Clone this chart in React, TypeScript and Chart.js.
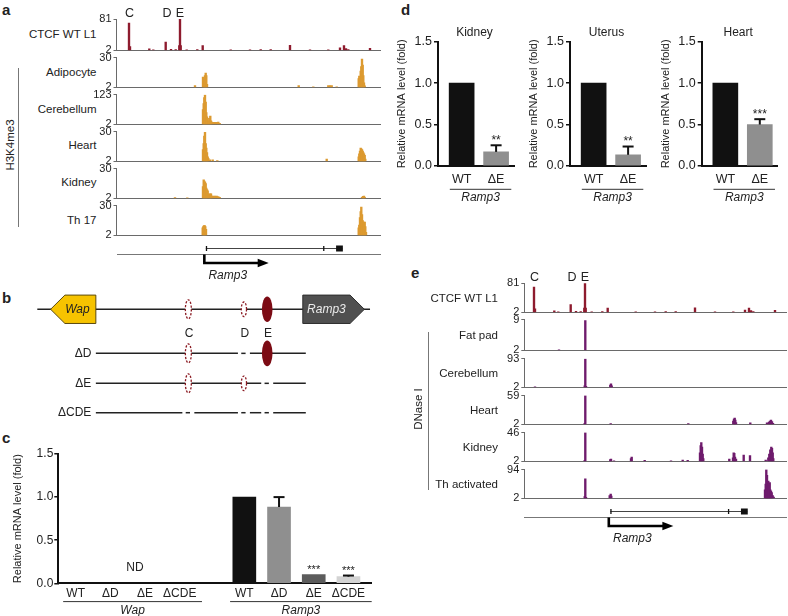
import React, { useEffect, useRef } from 'react';
import { Chart, registerables } from 'chart.js';

Chart.register(...registerables);

const FONT = "'Liberation Sans', Arial, Helvetica, sans-serif";
Chart.defaults.font.family = FONT;
Chart.defaults.color = '#222';

// ================= DATA =================
// Genome-browser window coordinates (bins along the locus)
// CTCF WT L1 (same track in panels a and e)
const ctcfPos = [12.5, 13.5, 32.8, 36.8, 49.2, 54.5, 59.2, 62.8, 63.5, 64.2, 70.2, 80.8, 86.2, 114.2, 133.5, 144.2, 154.2, 173.5, 193.5, 211.8, 223.5, 227.5, 229.5, 231.8, 253.5];
const ctcfVal = [71, 11.5, 6, 3.5, 23, 5, 4, 14, 81, 14, 3.5, 4, 14, 3.5, 3.5, 4, 4, 14.5, 3.5, 3.5, 8.3, 14, 6.7, 4, 7.5];
const ctcfSiteNames = ['C', 'D', 'E'];
const ctcfSitePos = [13, 50.5, 63.5];

// H3K4me3 (panel a)
const adipoPos = [78.5, 86.5, 87.2, 87.8, 88.5, 89.2, 89.8, 90.5, 182.2, 196.8, 211.8, 213.5, 215.2, 220.2, 242.2, 242.8, 243.5, 244.2, 244.8, 245.5, 246.2, 246.8, 247.5, 248.2];
const adipoVal = [3.7, 11.8, 10.4, 9.0, 13.2, 15.4, 13.2, 4.8, 3.7, 2.6, 3.7, 3.7, 3.7, 2.6, 10.4, 12.6, 10.4, 17.4, 21.6, 28.6, 23.0, 13.2, 6.2, 3.4];
const cerebPos = [86.5, 87.2, 87.8, 88.5, 89.2, 89.8, 90.5, 91.2, 91.8, 92.5, 93.2, 93.8, 94.5, 95.2, 96.2, 97.5, 98.8, 100.2, 101.8, 103.2];
const cerebVal = [62.5, 86.7, 110.9, 120.6, 92.8, 50.4, 32.3, 26.2, 16.5, 11.7, 26.2, 35.9, 16.5, 11.7, 10.5, 10.5, 10.5, 10.5, 11.7, 6.8];
const heartPos = [86.5, 87.2, 87.8, 88.5, 89.2, 89.8, 90.5, 91.2, 91.8, 93.5, 96.2, 100.8, 210.2, 242.2, 242.8, 243.5, 244.2, 244.8, 245.5, 246.2, 246.8, 247.5, 248.2, 248.8];
const heartVal = [13.2, 18.8, 25.8, 29.2, 18.8, 14.6, 10.4, 6.2, 4.8, 3.4, 3.4, 2.8, 4.2, 6.2, 9.0, 11.8, 14.6, 13.8, 13.2, 11.8, 10.4, 9.0, 7.6, 4.2];
const kidneyPos = [58.5, 70.8, 86.5, 87.2, 87.8, 88.5, 89.2, 89.8, 90.5, 91.2, 92.2, 93.2, 93.8, 94.5, 95.5, 96.8, 98.5, 100.2, 101.8, 103.2, 245.5, 246.5, 247.5, 248.2];
const kidneyVal = [2.8, 2.6, 13.2, 19.4, 18.2, 17.4, 16.0, 11.8, 10.4, 9.0, 6.2, 5.4, 6.2, 6.2, 4.2, 4.2, 4.2, 4.2, 3.7, 3.1, 3.1, 4.0, 4.2, 3.1];
const th17Pos = [86.2, 86.8, 87.5, 88.2, 88.8, 89.5, 242.2, 242.8, 243.5, 244.2, 244.8, 245.5, 246.2, 246.8, 247.5, 248.2, 248.8, 249.5];
const th17Val = [9.0, 10.4, 11.2, 11.2, 10.4, 7.6, 9.0, 11.8, 18.8, 24.4, 28.6, 21.6, 16.0, 13.2, 14.6, 14.6, 10.4, 4.8];

const aNames = ['CTCF WT L1', 'Adipocyte', 'Cerebellum', 'Heart', 'Kidney', 'Th 17'];
const aMax = [81, 30, 123, 30, 30, 30];
const aPos = [ctcfPos, adipoPos, cerebPos, heartPos, kidneyPos, th17Pos];
const aVal = [ctcfVal, adipoVal, cerebVal, heartVal, kidneyVal, th17Val];

// DNase I (panel e)
const dnFatPos = [37.5, 63.8];
const dnFatVal = [2.1, 8.8];
const dnCerebPos = [13.5, 63.2, 63.8, 64.5, 88.8, 89.5, 90.2];
const dnCerebVal = [3.8, 6.6, 91.2, 5.6, 9.3, 12.9, 6.6];
const dnHeartPos = [63.2, 63.8, 89.2, 166.8, 211.8, 212.5, 213.2, 213.8, 214.5, 228.8, 245.5, 247.5, 248.5, 249.5, 250.5, 251.5];
const dnHeartVal = [4.3, 59, 3.7, 3.7, 8.8, 12.3, 14.5, 10.6, 5.4, 4.9, 4.9, 6.6, 8.8, 10.6, 7.7, 4.3];
const dnKidneyPos = [63.2, 63.8, 88.8, 89.5, 92.5, 109.5, 110.2, 123.2, 149.5, 161.2, 166.2, 178.5, 179.2, 179.8, 180.5, 181.2, 181.8, 207.8, 211.5, 212.2, 212.8, 213.5, 214.5, 222.2, 228.5, 244.2, 246.8, 247.8, 248.8, 249.8, 250.5, 251.2, 251.8];
const dnKidneyVal = [3.8, 46, 4.6, 5.5, 2.9, 6.4, 8.6, 3.8, 2.9, 4.2, 3.8, 15.2, 26.2, 30.6, 24, 13, 6.4, 5.5, 7.3, 15.2, 14.3, 8.6, 5.5, 11.7, 10.8, 4.2, 7.3, 13, 19.6, 24, 21.8, 15.2, 6.4];
const dnThPos = [63.2, 63.8, 64.5, 88.2, 89.2, 89.8, 243.5, 244.2, 244.8, 245.5, 246.2, 246.8, 247.5, 248.2, 248.8, 249.5, 250.2, 251.2, 252.2];
const dnThVal = [7.5, 64.6, 5.7, 11.2, 15.8, 9.4, 29.6, 48, 94, 75.6, 52.6, 57.2, 48, 52.6, 29.6, 25, 20.4, 11.2, 6.6];

const eNames = ['CTCF WT L1', 'Fat pad', 'Cerebellum', 'Heart', 'Kidney', 'Th activated'];
const eMax = [81, 9, 93, 59, 46, 94];
const ePos = [ctcfPos, dnFatPos, dnCerebPos, dnHeartPos, dnKidneyPos, dnThPos];
const eVal = [ctcfVal, dnFatVal, dnCerebVal, dnHeartVal, dnKidneyVal, dnThVal];

// Ramp3 gene model (same window coordinates)
const geneTSS = 87.5;
const geneEnd = 225.8;
const geneExonStart = [89.0, 206.5, 219.5];
const geneExonEnd = [89.6, 207.1, 226.3];
const geneArrowEnd = 152;
const geneLabelPos = 111;
const geneName = 'Ramp3';

// Panel b schematic (map units along the Wap–Ramp3 locus)
const bGeneNames = ['Wap', 'Ramp3'];
const bGeneFrom = [4.0, 79.8];
const bGeneTo = [17.6, 98.3];
const bGeneStrand = [-1, 1];
const bSiteNames = ['C', 'D', 'E'];
const bSitePos = [45.4, 62.1, 69.1];
const bSiteBound = [false, false, true];
const bRowNames = ['', 'ΔD', 'ΔE', 'ΔCDE'];
const bRowDeleted = [[], ['D'], ['E'], ['C', 'D', 'E']];
const bRowY = [0, 1.47, 2.47, 3.45];

// Panel c
const cLabels = ['WT', 'ΔD', 'ΔE', 'ΔCDE', 'WT', 'ΔD', 'ΔE', 'ΔCDE'];
const cPos = [0.5, 1.5, 2.5, 3.5, 5.36, 6.36, 7.36, 8.36];
const cVals: (number | null)[] = [null, null, null, null, 1.0, 0.885, 0.10, 0.077];
const cErr = [0, 0, 0, 0, 0, 0.115, 0, 0.013];
const cSig = ['', '', '', '', '', '', '***', '***'];
const cGroups = ['Wap', 'Ramp3'];
const cGroupFrom = [0.14, 4.95];
const cGroupTo = [4.14, 9.03];

// Panel d
const dTitles = ['Kidney', 'Uterus', 'Heart'];
const dLabels = ['WT', 'ΔE'];
const dPos = [0.7, 1.72];
const dWT = [1.0, 1.0, 1.0];
const dKO = [0.17, 0.135, 0.50];
const dKOErr = [0.08, 0.10, 0.065];
const dSig = ['**', '**', '***'];
const dGroup = 'Ramp3';

// ================= STYLES / LAYOUT =================
const CTCF_COLOR = '#8e1b2e';
const H3_COLOR = '#dc9a30';
const DN_COLOR = '#6f1b6c';
const AXIS_GRAY = '#6a6a6a';
const aTop = [19, 56, 93.3, 130, 166.7, 204];
const aBase = [51.7, 89.3, 126, 162.7, 200, 237.3];
const eTop = [283.3, 318.3, 357.3, 394, 431, 468.3];
const eBase = [314.3, 351.7, 389, 426.3, 463.3, 500.3];

function Txt({ x, y, text, size = 11.5, align = 'left', bold = false, italic = false, rotate = false, color = '#222' }: any) {
  const lh = Math.round(size * 1.25);
  const st: any = {
    position: 'absolute', top: y - lh / 2, height: lh, lineHeight: lh + 'px', fontSize: size,
    fontFamily: FONT, whiteSpace: 'nowrap', fontWeight: bold ? 700 : 400,
    fontStyle: italic ? 'italic' : 'normal', color,
  };
  if (rotate) { st.left = x - 100; st.width = 200; st.textAlign = 'center'; st.transform = 'rotate(-90deg)'; }
  else if (align === 'right') { st.left = x - 200; st.width = 200; st.textAlign = 'right'; }
  else if (align === 'center') { st.left = x - 100; st.width = 200; st.textAlign = 'center'; }
  else st.left = x;
  return <div style={st}>{text}</div>;
}

function Rule({ x, y, w, h, color = AXIS_GRAY }: any) {
  return <div style={{ position: 'absolute', left: x, top: y, width: w, height: h, background: color }} />;
}

// ---------- Track ----------
function Track(p: any) {
  const ref = useRef<HTMLCanvasElement>(null);
  const left = Math.round(p.axisX - 30);
  const yW = p.axisX - left;
  const top = Math.round(p.topY - (p.sites ? 16 : 7));
  const pT = p.topY - top;
  const pB = 7;
  const w = Math.round(yW + p.trackW);
  const h = Math.round(p.baseY - top + pB);
  const padB = h - (p.baseY - top);
  useEffect(() => {
    const plugins: any[] = [];
    if (p.sites) {
      plugins.push({
        id: 'sites',
        afterDraw(chart: any) {
          const { ctx, chartArea } = chart;
          const x = chart.scales.x;
          ctx.save();
          ctx.font = `12.5px ${FONT}`;
          ctx.fillStyle = '#222';
          ctx.textAlign = 'center';
          ctx.textBaseline = 'middle';
          ctcfSiteNames.forEach((n, i) => ctx.fillText(n, x.getPixelForValue(ctcfSitePos[i]), chartArea.top - 5.5));
          ctx.restore();
        },
      });
    }
    const chart = new Chart(ref.current!, {
      type: 'bar',
      data: {
        datasets: [{
          data: p.pos.map((x: number, i: number) => ({ x, y: p.vals[i] })),
          backgroundColor: p.color, borderWidth: 0, barThickness: 1.7, base: 2,
        } as any],
      },
      options: {
        animation: false, responsive: false, devicePixelRatio: 1, events: [],
        layout: { padding: { top: pT, bottom: padB, left: 0, right: 0 } },
        plugins: { legend: { display: false }, tooltip: { enabled: false } },
        scales: {
          x: {
            type: 'linear', min: p.xMin, max: p.xMax, offset: false,
            ticks: { display: false }, grid: { display: false, drawTicks: false, offset: false },
            border: { display: true, color: AXIS_GRAY, width: 1 },
            afterFit: (s: any) => { s.height = 0; },
          },
          y: {
            type: 'linear', min: 2, max: p.max,
            afterBuildTicks: (s: any) => { s.ticks = [{ value: 2 }, { value: p.max }]; },
            ticks: { font: { size: 11 }, color: '#222', padding: 2 },
            grid: { drawOnChartArea: false, tickLength: 3, color: AXIS_GRAY },
            border: { color: AXIS_GRAY, width: 1 },
            afterFit: (s: any) => { s.width = yW; },
          },
        },
      } as any,
      plugins,
    });
    return () => chart.destroy();
  }, []);
  return <canvas ref={ref} width={w} height={h} style={{ position: 'absolute', left, top }} />;
}

// ---------- Gene model ----------
function Gene({ axisX, topY, trackW, xMin, xMax }: any) {
  const ref = useRef<HTMLCanvasElement>(null);
  const left = Math.round(axisX);
  const w = Math.round(trackW + axisX - left);
  const h = 42;
  useEffect(() => {
    const chart = new Chart(ref.current!, {
      type: 'scatter',
      data: { datasets: [] },
      options: {
        animation: false, responsive: false, devicePixelRatio: 1, events: [],
        layout: { padding: 0 },
        plugins: { legend: { display: false }, tooltip: { enabled: false } },
        scales: {
          x: { type: 'linear', min: xMin, max: xMax, display: false },
          y: { type: 'linear', min: 0, max: 1, display: false },
        },
      } as any,
      plugins: [{
        id: 'gene',
        afterDraw(c: any) {
          const { ctx, chartArea } = c;
          const X = (v: number) => c.scales.x.getPixelForValue(v);
          const yG = 6.5, yA = 12.5;
          ctx.save();
          ctx.strokeStyle = '#444'; ctx.lineWidth = 1;
          ctx.beginPath(); ctx.moveTo(X(geneExonStart[0]), yG); ctx.lineTo(X(geneEnd), yG); ctx.stroke();
          ctx.fillStyle = '#111';
          geneExonStart.forEach((s, i) => {
            const x0 = X(s), x1 = X(geneExonEnd[i]);
            const big = x1 - x0 > 3;
            const hh = big ? 6 : 5;
            ctx.fillRect(x0, yG - hh / 2, Math.max(1.3, x1 - x0), hh);
          });
          ctx.strokeStyle = '#777'; ctx.lineWidth = 1.2;
          ctx.beginPath(); ctx.moveTo(chartArea.left, yA); ctx.lineTo(chartArea.right, yA); ctx.stroke();
          const xt = X(geneTSS), xe = X(geneArrowEnd), ya = yA + 8.5;
          ctx.strokeStyle = '#000'; ctx.lineWidth = 2.6; ctx.lineJoin = 'miter';
          ctx.beginPath(); ctx.moveTo(xt, yA); ctx.lineTo(xt, ya); ctx.lineTo(xe - 8, ya); ctx.stroke();
          ctx.fillStyle = '#000';
          ctx.beginPath(); ctx.moveTo(xe, ya); ctx.lineTo(xe - 11, ya - 4.2); ctx.lineTo(xe - 11, ya + 4.2); ctx.closePath(); ctx.fill();
          ctx.font = `italic 12px ${FONT}`; ctx.textAlign = 'center'; ctx.textBaseline = 'middle'; ctx.fillStyle = '#222';
          ctx.fillText(geneName, X(geneLabelPos), yA + 21.5);
          ctx.restore();
        },
      }],
    });
    return () => chart.destroy();
  }, []);
  return <canvas ref={ref} width={w} height={h} style={{ position: 'absolute', left, top: Math.round(topY) }} />;
}

// ---------- Panel b schematic ----------
function Schematic() {
  const ref = useRef<HTMLCanvasElement>(null);
  useEffect(() => {
    const chart = new Chart(ref.current!, {
      type: 'scatter',
      data: { datasets: [] },
      options: {
        animation: false, responsive: false, devicePixelRatio: 1, events: [],
        layout: { padding: 0 },
        plugins: { legend: { display: false }, tooltip: { enabled: false } },
        scales: {
          x: { type: 'linear', min: -11.21, max: 103.0, display: false },
          y: { type: 'linear', min: -0.81, max: 3.86, reverse: true, display: false },
        },
      } as any,
      plugins: [{
        id: 'schematic',
        afterDraw(c: any) {
          const { ctx } = c;
          const X = (v: number) => c.scales.x.getPixelForValue(v);
          const Y = (v: number) => c.scales.y.getPixelForValue(v);
          const radii: Record<string, number[]> = { C: [3.0, 9.5], D: [2.6, 7.3], E: [5.3, 12.8] };
          const line = (a: number, b: number, y: number) => {
            ctx.beginPath(); ctx.moveTo(X(a), y); ctx.lineTo(X(b), y); ctx.stroke();
          };
          const site = (i: number, y: number) => {
            const [rx, ry] = radii[bSiteNames[i]];
            ctx.save();
            ctx.beginPath(); ctx.ellipse(X(bSitePos[i]), y, rx, ry, 0, 0, Math.PI * 2);
            if (bSiteBound[i]) { ctx.fillStyle = '#7c0b14'; ctx.fill(); }
            else {
              ctx.fillStyle = '#fff'; ctx.fill();
              ctx.setLineDash([2.2, 1.6]); ctx.strokeStyle = '#8b1a22'; ctx.lineWidth = 1.3; ctx.stroke();
            }
            ctx.restore();
          };
          ctx.save();
          ctx.strokeStyle = '#222'; ctx.lineWidth = 1.5;
          // WT locus
          const y0 = Y(bRowY[0]);
          line(0, 100, y0);
          const tip = 4.3, hh = 14.2;
          bGeneNames.forEach((g, i) => {
            const f = bGeneFrom[i], t = bGeneTo[i];
            ctx.beginPath();
            if (bGeneStrand[i] < 0) {
              ctx.moveTo(X(f), y0); ctx.lineTo(X(f + tip), y0 - hh); ctx.lineTo(X(t), y0 - hh);
              ctx.lineTo(X(t), y0 + hh); ctx.lineTo(X(f + tip), y0 + hh);
            } else {
              ctx.moveTo(X(t), y0); ctx.lineTo(X(t - tip), y0 - hh); ctx.lineTo(X(f), y0 - hh);
              ctx.lineTo(X(f), y0 + hh); ctx.lineTo(X(t - tip), y0 + hh);
            }
            ctx.closePath();
            ctx.fillStyle = i === 0 ? '#f6c300' : '#505050';
            ctx.fill();
            ctx.lineWidth = 1; ctx.strokeStyle = i === 0 ? '#5b4a10' : '#2e2e2e'; ctx.stroke();
            const bodyC = bGeneStrand[i] < 0 ? (f + tip + t) / 2 - 0.9 : (f + t - tip) / 2;
            ctx.font = `italic 12px ${FONT}`; ctx.textAlign = 'center'; ctx.textBaseline = 'middle';
            ctx.fillStyle = i === 0 ? '#222' : '#ececec';
            ctx.fillText(g, X(bodyC), y0 + 0.5);
          });
          ctx.strokeStyle = '#222'; ctx.lineWidth = 1.5;
          bSiteNames.forEach((_, i) => site(i, y0));
          ctx.font = `12px ${FONT}`; ctx.textAlign = 'center'; ctx.textBaseline = 'middle'; ctx.fillStyle = '#222';
          bSiteNames.forEach((n, i) => ctx.fillText(n, X(bSitePos[i]) + 0.8, Y(0.8)));
          // deletion alleles
          const rowFrom = bGeneTo[0], rowTo = bGeneFrom[1] + 0.9;
          for (let r = 1; r < bRowNames.length; r++) {
            const y = Y(bRowY[r]);
            const del = bRowDeleted[r];
            const cuts = bSiteNames.map((n, i) => (del.includes(n) ? bSitePos[i] : null)).filter((v) => v !== null) as number[];
            ctx.strokeStyle = '#222'; ctx.lineWidth = 1.5;
            let start = rowFrom;
            cuts.forEach((s) => { line(start, s - 1.8, y); line(s - 0.8, s + 0.5, y); start = s + 1.8; });
            line(start, rowTo, y);
            bSiteNames.forEach((n, i) => { if (!del.includes(n)) site(i, y); });
            ctx.font = `12px ${FONT}`; ctx.textAlign = 'right'; ctx.textBaseline = 'middle'; ctx.fillStyle = '#222';
            ctx.fillText(bRowNames[r], X(rowFrom) - 4.5, y);
          }
          ctx.restore();
        },
      }],
    });
    return () => chart.destroy();
  }, []);
  return <canvas ref={ref} width={380} height={140} style={{ position: 'absolute', left: 0, top: 285 }} />;
}

// ---------- bar helpers ----------
function drawErrorsAndStars(c: any, vals: (number | null)[], errs: number[], sig: string[], starSize: number, capHalf: number) {
  const { ctx } = c;
  const y = c.scales.y;
  const meta = c.getDatasetMeta(c.data.datasets.length - 1);
  ctx.save();
  meta.data.forEach((el: any, i: number) => {
    const v = vals[i];
    if (v == null) return;
    let topPx = el.y;
    if (errs[i] > 0) {
      const ye = y.getPixelForValue(v + errs[i]);
      ctx.strokeStyle = '#111'; ctx.lineWidth = 2;
      ctx.beginPath(); ctx.moveTo(el.x, el.y); ctx.lineTo(el.x, ye); ctx.stroke();
      ctx.beginPath(); ctx.moveTo(el.x - capHalf, ye); ctx.lineTo(el.x + capHalf, ye); ctx.stroke();
      topPx = ye;
    }
    if (sig[i]) {
      ctx.font = `${starSize}px ${FONT}`; ctx.fillStyle = '#222'; ctx.textAlign = 'center'; ctx.textBaseline = 'alphabetic';
      ctx.fillText(sig[i], el.x, topPx - 1.5);
    }
  });
  ctx.restore();
}

function drawGroup(c: any, name: string, from: number, to: number, dy: number, dyText: number) {
  const { ctx, chartArea } = c;
  const x = c.scales.x;
  const y = chartArea.bottom + dy;
  ctx.save();
  ctx.strokeStyle = '#333'; ctx.lineWidth = 1;
  ctx.beginPath(); ctx.moveTo(x.getPixelForValue(from), y); ctx.lineTo(x.getPixelForValue(to), y); ctx.stroke();
  ctx.font = `italic 12px ${FONT}`; ctx.fillStyle = '#222'; ctx.textAlign = 'center'; ctx.textBaseline = 'middle';
  ctx.fillText(name, x.getPixelForValue((from + to) / 2), chartArea.bottom + dyText);
  ctx.restore();
}

// ---------- Panel c ----------
function PanelC() {
  const ref = useRef<HTMLCanvasElement>(null);
  useEffect(() => {
    const colors = ['#111111', '#8f8f8f', '#5c5c5c', '#d3d3d3', '#111111', '#8f8f8f', '#5c5c5c', '#d3d3d3'];
    const chart = new Chart(ref.current!, {
      type: 'bar',
      data: {
        datasets: [{
          data: cPos.map((x, i) => ({ x, y: cVals[i] })),
          backgroundColor: colors, borderWidth: 0, barThickness: 23,
        } as any],
      },
      options: {
        animation: false, responsive: false, devicePixelRatio: 1, events: [],
        layout: { padding: { left: 11.1, top: 14, right: 8.3, bottom: 0 } },
        plugins: { legend: { display: false }, tooltip: { enabled: false } },
        scales: {
          x: {
            type: 'linear', min: 0, max: 9.03, offset: false,
            afterBuildTicks: (s: any) => { s.ticks = cPos.map((v) => ({ value: v })); },
            ticks: { callback: (_v: any, i: number) => cLabels[i], autoSkip: false, maxRotation: 0, font: { size: 12 }, color: '#222', padding: 3 },
            grid: { display: false, drawTicks: false, offset: false },
            border: { display: true, color: '#111', width: 2 },
            afterFit: (s: any) => { s.height = 32.7; },
          },
          y: {
            type: 'linear', min: 0, max: 1.5,
            ticks: { stepSize: 0.5, callback: (v: any) => Number(v).toFixed(1), font: { size: 12 }, color: '#222', padding: 1 },
            grid: { drawOnChartArea: false, tickLength: 4, color: '#111', lineWidth: 1.5 },
            border: { color: '#111', width: 2 },
            title: { display: true, text: 'Relative mRNA level (fold)', font: { size: 11 }, color: '#222', padding: 0 },
            afterFit: (s: any) => { s.width = 47.2; },
          },
        },
      } as any,
      plugins: [{
        id: 'cExtras',
        afterDraw(c: any) {
          drawErrorsAndStars(c, cVals, cErr, cSig, 11, 5.5);
          cGroups.forEach((g, i) => drawGroup(c, g, cGroupFrom[i], cGroupTo[i], 18.3, 27.7));
        },
      }],
    });
    return () => chart.destroy();
  }, []);
  return <canvas ref={ref} width={380} height={176} style={{ position: 'absolute', left: 0, top: 440 }} />;
}

// ---------- Panel d ----------
const dAxisX = [438, 570, 701.7];
function PanelD({ idx }: { idx: number }) {
  const ref = useRef<HTMLCanvasElement>(null);
  const axisX = dAxisX[idx];
  const left = Math.round(axisX - 43);
  const yW = axisX - left;
  const top = 20, areaTop = 41.7, areaBottom = 166, height = 190;
  const areaW = 76;
  const width = Math.round(yW + areaW + 6);
  useEffect(() => {
    const vals = [dWT[idx], dKO[idx]];
    const errs = [0, dKOErr[idx]];
    const sig = ['', dSig[idx]];
    const chart = new Chart(ref.current!, {
      type: 'bar',
      data: {
        datasets: [{
          data: dPos.map((x, i) => ({ x, y: vals[i] })),
          backgroundColor: ['#111111', '#8f8f8f'], borderWidth: 0, barThickness: 25,
        } as any],
      },
      options: {
        animation: false, responsive: false, devicePixelRatio: 1, events: [],
        layout: { padding: { left: 0, top: areaTop - top, right: width - yW - areaW, bottom: 0 } },
        plugins: { legend: { display: false }, tooltip: { enabled: false } },
        scales: {
          x: {
            type: 'linear', min: 0, max: 2.25, offset: false,
            afterBuildTicks: (s: any) => { s.ticks = dPos.map((v) => ({ value: v })); },
            ticks: { callback: (_v: any, i: number) => dLabels[i], autoSkip: false, maxRotation: 0, font: { size: 12.5 }, color: '#222', padding: 6 },
            grid: { display: false, drawTicks: false, offset: false },
            border: { display: true, color: '#111', width: 2 },
            afterFit: (s: any) => { s.height = top + height - areaBottom; },
          },
          y: {
            type: 'linear', min: 0, max: 1.5,
            ticks: { stepSize: 0.5, callback: (v: any) => Number(v).toFixed(1), font: { size: 12.5 }, color: '#222', padding: 2 },
            grid: { drawOnChartArea: false, tickLength: 4, color: '#111', lineWidth: 1.5 },
            border: { color: '#111', width: 2 },
            title: { display: true, text: 'Relative mRNA level (fold)', font: { size: 11 }, color: '#222', padding: 0 },
            afterFit: (s: any) => { s.width = yW; },
          },
        },
      } as any,
      plugins: [{
        id: 'dExtras',
        afterDraw(c: any) {
          drawErrorsAndStars(c, vals, errs, sig, 12, 5.5);
          drawGroup(c, dGroup, 0.35, 2.17, 23.3, 31.5);
          const { ctx, chartArea } = c;
          ctx.save();
          ctx.font = `12px ${FONT}`; ctx.fillStyle = '#222'; ctx.textAlign = 'center'; ctx.textBaseline = 'middle';
          ctx.fillText(dTitles[idx], (chartArea.left + chartArea.right) / 2 - 1.5, chartArea.top - 9.5);
          ctx.restore();
        },
      }],
    });
    return () => chart.destroy();
  }, []);
  return <canvas ref={ref} width={width} height={height} style={{ position: 'absolute', left, top }} />;
}

// ================= APP =================
export default function App() {
  const aAxisX = 116.5, aW = 264.5, aMin = 0, aMaxX = 264.5;
  const eAxisX = 524.3, eW = 262.7, eMin = 2.8, eMaxX = 265.5;
  return (
    <div style={{ position: 'absolute', left: 0, top: 0, width: 788, height: 616, background: '#fff', overflow: 'hidden', fontFamily: FONT, color: '#222' }}>
      {/* panel letters */}
      <Txt x={2} y={9} text="a" size={15} bold />
      <Txt x={2} y={297} text="b" size={15} bold />
      <Txt x={2} y={437} text="c" size={15} bold />
      <Txt x={401} y={9} text="d" size={15} bold />
      <Txt x={411} y={272} text="e" size={15} bold />

      {/* panel a */}
      {aNames.map((n, i) => (
        <Txt key={'al' + i} x={96.5} y={(aTop[i] + aBase[i]) / 2 - 1} text={n} align="right" />
      ))}
      <Rule x={18} y={68.3} w={1} h={158.4} color="#777" />
      <Txt x={10} y={145} text="H3K4me3" rotate size={11.5} />
      {aNames.map((_, i) => (
        <Track key={'at' + i} pos={aPos[i]} vals={aVal[i]} max={aMax[i]} color={i === 0 ? CTCF_COLOR : H3_COLOR}
          axisX={aAxisX} topY={aTop[i]} baseY={aBase[i]} trackW={aW} xMin={aMin} xMax={aMaxX} sites={i === 0} />
      ))}
      <Gene axisX={aAxisX} topY={242} trackW={aW} xMin={aMin} xMax={aMaxX} />

      {/* panel b */}
      <Schematic />

      {/* panel c */}
      <PanelC />
      <Txt x={135} y={567} text="ND" size={12} align="center" />

      {/* panel d */}
      <PanelD idx={0} />
      <PanelD idx={1} />
      <PanelD idx={2} />

      {/* panel e */}
      {eNames.map((n, i) => (
        <Txt key={'el' + i} x={498} y={(eTop[i] + eBase[i]) / 2 - 0.5} text={n} align="right" />
      ))}
      <Rule x={428} y={331.7} w={1} h={158.3} color="#777" />
      <Txt x={418.3} y={408.5} text="DNase I" rotate size={11.5} />
      {eNames.map((_, i) => (
        <Track key={'et' + i} pos={ePos[i]} vals={eVal[i]} max={eMax[i]} color={i === 0 ? CTCF_COLOR : DN_COLOR}
          axisX={eAxisX} topY={eTop[i]} baseY={eBase[i]} trackW={eW} xMin={eMin} xMax={eMaxX} sites={i === 0} />
      ))}
      <Gene axisX={eAxisX} topY={505} trackW={eW} xMin={eMin} xMax={eMaxX} />
    </div>
  );
}
